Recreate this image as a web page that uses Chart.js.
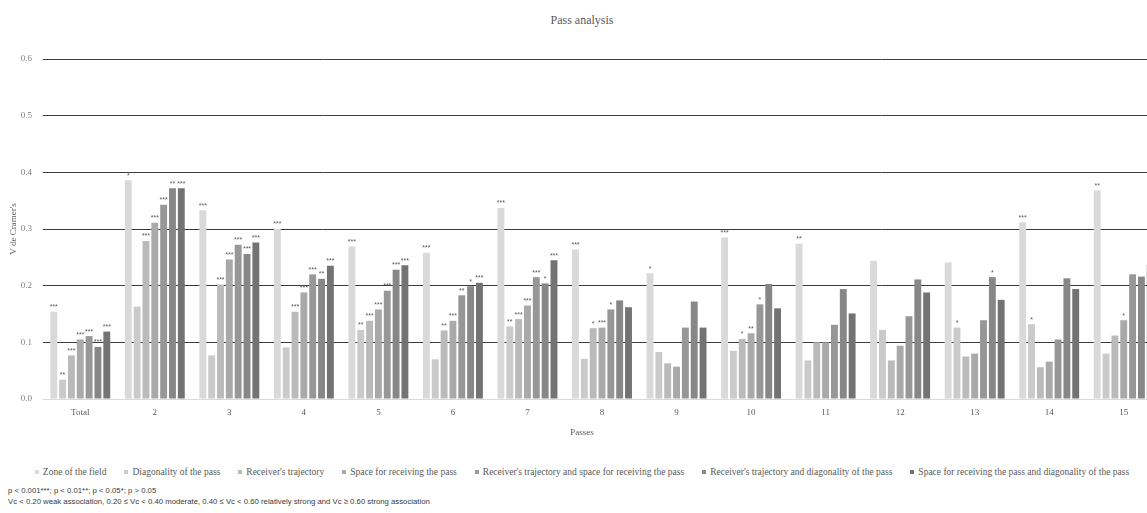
<!DOCTYPE html>
<html>
<head>
<meta charset="utf-8">
<script src="https://cdn.jsdelivr.net/npm/chart.js@4/dist/chart.umd.min.js"></script>
<style>
  html, body { margin: 0; padding: 0; width: 1147px; height: 513px; overflow: hidden; background: #fff; }
  #wrap { position: absolute; left: 0; top: 0; width: 1164px; height: 430px; }
  .title { position: absolute; left: 0; width: 1164px; top: 13px; text-align: center;
           font-family: "Liberation Serif", serif; font-size: 12px; color: #595959; }
  .xtitle { position: absolute; left: 0; width: 1164px; top: 427px; text-align: center;
           font-family: "Liberation Serif", serif; font-size: 9px; color: #595959; }
  #legend { position: absolute; left: 0; width: 1164px; top: 467px; display: flex; justify-content: center;
            gap: 18px; font-family: "Liberation Serif", serif; font-size: 9.5px; color: #595959; white-space: nowrap; }
  #legend .item { display: flex; align-items: center; }
  #legend .sw { width: 4px; height: 4px; margin-right: 4px; display: inline-block; }
  .foot { position: absolute; left: 8px; font-family: "Liberation Sans", sans-serif; font-size: 7.75px; color: #3a3a3a; white-space: nowrap; }
</style>
</head>
<body>
<div class="title">Pass analysis</div>
<div id="wrap"><canvas id="c"></canvas></div>
<div class="xtitle">Passes</div>
<div id="legend"></div>
<div class="foot" style="top:486px">p &lt; 0.001***; p &lt; 0.01**; p &lt; 0.05*; p &gt; 0.05</div>
<div class="foot" style="top:497px">Vc &lt; 0.20 weak association, 0.20 ≤ Vc &lt; 0.40 moderate, 0.40 ≤ Vc &lt; 0.60 relatively strong and Vc ≥ 0.60 strong association</div>
<script>
const categories = ['Total','2','3','4','5','6','7','8','9','10','11','12','13','14','15'];
const seriesNames = [
  'Zone of the field',
  'Diagonality of the pass',
  "Receiver's trajectory",
  'Space for receiving the pass',
  "Receiver's trajectory and space for receiving the pass",
  "Receiver's trajectory and diagonality of the pass",
  'Space for receiving the pass and diagonality of the pass'
];
const zone      = [0.154, 0.386, 0.333, 0.300, 0.269, 0.258, 0.337, 0.264, 0.222, 0.285, 0.274, 0.244, 0.241, 0.312, 0.368];
const diag      = [0.034, 0.163, 0.077, 0.091, 0.122, 0.070, 0.128, 0.071, 0.083, 0.085, 0.068, 0.122, 0.126, 0.132, 0.080];
const traj      = [0.077, 0.279, 0.202, 0.154, 0.138, 0.121, 0.141, 0.125, 0.063, 0.106, 0.100, 0.068, 0.075, 0.056, 0.112];
const space     = [0.105, 0.311, 0.246, 0.188, 0.158, 0.138, 0.165, 0.126, 0.057, 0.116, 0.100, 0.094, 0.080, 0.066, 0.139];
const trajSpace = [0.111, 0.343, 0.272, 0.220, 0.191, 0.183, 0.215, 0.158, 0.126, 0.167, 0.131, 0.146, 0.139, 0.105, 0.220];
const trajDiag  = [0.092, 0.372, 0.256, 0.212, 0.228, 0.199, 0.204, 0.174, 0.172, 0.203, 0.194, 0.211, 0.215, 0.213, 0.216];
const spaceDiag = [0.119, 0.372, 0.276, 0.235, 0.236, 0.205, 0.245, 0.162, 0.126, 0.160, 0.151, 0.188, 0.175, 0.194, 0.236];

const zoneStars      = ['***','*','***','***','***','***','***','***','*','***','**','','','***','**'];
const diagStars      = ['**','','','','**','','**','','','','','','*','*',''];
const trajStars      = ['***','***','***','***','***','**','***','*','','*','','','','',''];
const spaceStars     = ['***','***','***','***','***','***','***','***','','**','','','','','*'];
const trajSpaceStars = ['***','***','***','***','***','**','***','*','','*','','','','',''];
const trajDiagStars  = ['***','**','***','**','***','*','*','','','','','','*','',''];
const spaceDiagStars = ['***','***','***','***','***','***','***','','','','','','','',''];

const yTicks = [0, 0.1, 0.2, 0.3, 0.4, 0.5, 0.6];

const colors = ['#d9d9d9','#cacaca','#bababa','#a9a9a9','#979797','#878787','#737373'];
const values = [zone, diag, traj, space, trajSpace, trajDiag, spaceDiag];
const stars = [zoneStars, diagStars, trajStars, spaceStars, trajSpaceStars, trajDiagStars, spaceDiagStars];

const datasets = values.map((v, i) => ({
  label: seriesNames[i],
  data: v,
  backgroundColor: colors[i],
  borderWidth: 0,
  categoryPercentage: 0.83,
  barPercentage: 0.78
}));

const starPlugin = {
  id: 'stars',
  afterDatasetsDraw(chart) {
    const ctx = chart.ctx;
    ctx.save();
    ctx.font = '7px "Liberation Sans", sans-serif';
    ctx.fillStyle = '#595959';
    ctx.textAlign = 'center';
    ctx.textBaseline = 'bottom';
    chart.data.datasets.forEach((ds, i) => {
      const meta = chart.getDatasetMeta(i);
      meta.data.forEach((el, j) => {
        const s = stars[i][j];
        if (s) ctx.fillText(s, el.x, el.y - 1);
      });
    });
    ctx.restore();
  }
};

// HTML legend
const lg = document.getElementById('legend');
seriesNames.forEach((n, i) => {
  const it = document.createElement('div');
  it.className = 'item';
  it.innerHTML = '<span class="sw" style="background:' + colors[i] + '"></span><span>' + n + '</span>';
  lg.appendChild(it);
});

new Chart(document.getElementById('c'), {
  type: 'bar',
  data: { labels: categories, datasets },
  plugins: [starPlugin],
  options: {
    responsive: true,
    maintainAspectRatio: false,
    animation: false,
    layout: { padding: { top: 59, left: 0, right: 3, bottom: 0 } },
    plugins: { legend: { display: false }, title: { display: false }, tooltip: { enabled: false } },
    scales: {
      x: {
        grid: { display: false, drawTicks: false },
        border: { color: '#d9d9d9', width: 1 },
        ticks: { color: '#595959', font: { family: 'Liberation Serif', size: 9 }, padding: 8 },
        afterFit(s) { s.height = 31; }
      },
      y: {
        min: 0, max: 0.6,
        afterBuildTicks(s) { s.ticks = yTicks.map(v => ({ value: v })); },
        grid: {
          drawTicks: false,
          color: c => (c.tick && c.tick.value === 0) ? '#d9d9d9' : '#3c3c3c',
          lineWidth: 1
        },
        border: { display: false },
        ticks: {
          color: '#7f7f7f', font: { family: 'Liberation Serif', size: 9 }, padding: 11,
          callback: v => v.toFixed(1)
        },
        title: { display: true, text: "V de Cramer's", color: '#595959',
                 font: { family: 'Liberation Serif', size: 9 }, padding: { top: 8, bottom: 0 } },
        afterFit(s) { s.width = 43; }
      }
    }
  }
});
</script>
</body>
</html>
